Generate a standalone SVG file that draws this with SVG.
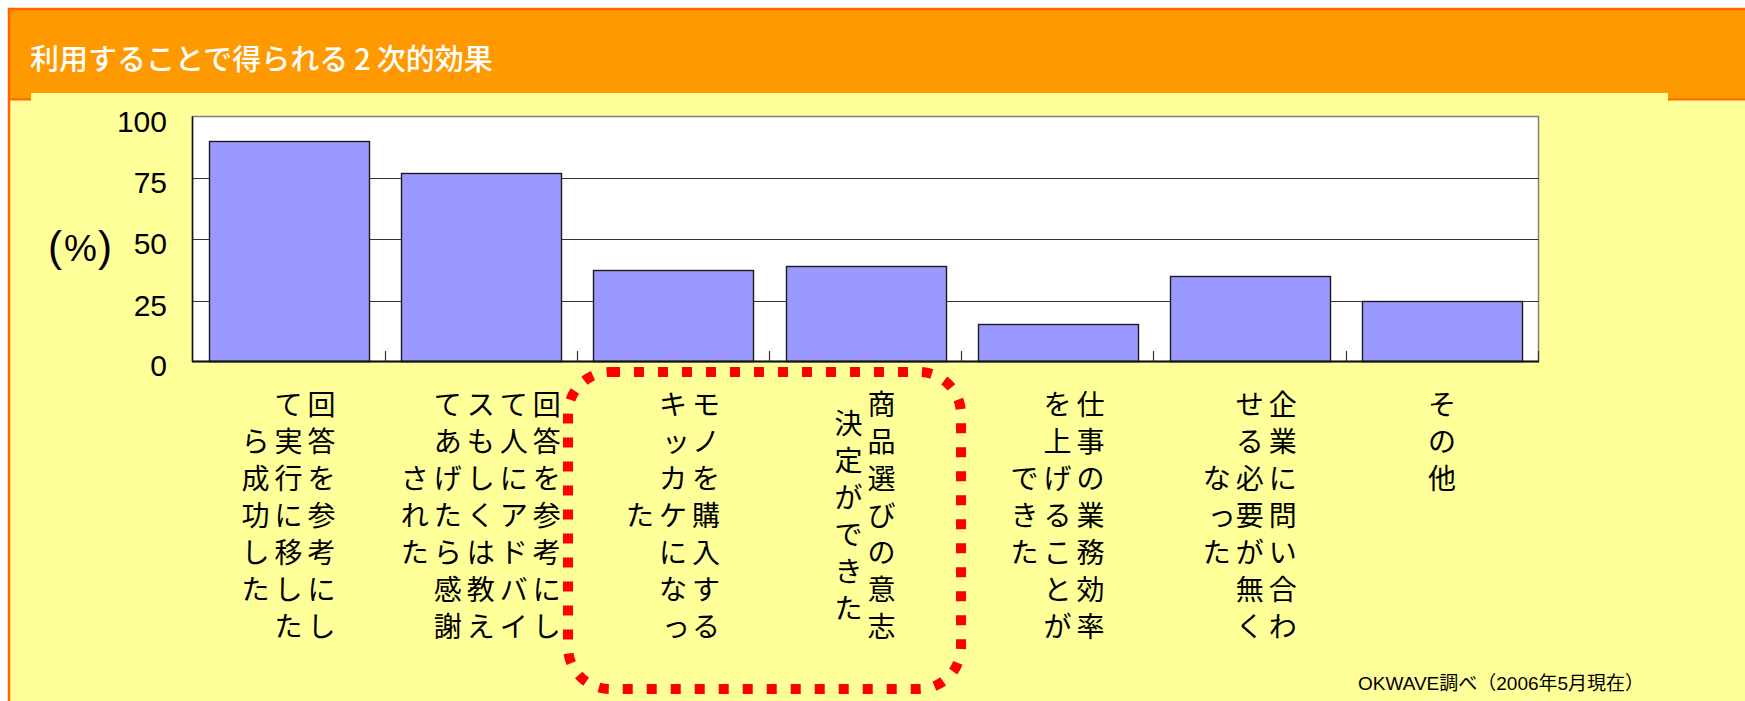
<svg xmlns="http://www.w3.org/2000/svg" width="1745" height="701" viewBox="0 0 1745 701">
  <style>
    .num { font-family: "Liberation Sans", Arial, sans-serif; font-size: 30px; fill: #000; text-anchor: end; }
    .lbl { font-family: "Noto Sans CJK JP", "Noto Sans CJK SC", sans-serif; font-size: 28px; fill: #000; text-anchor: middle; }
    .bar { fill: #9999FF; stroke: #1a1a1a; stroke-width: 1.4; }
    .grid { stroke: #333; stroke-width: 1; fill: none; }
    .tick { stroke: #333; stroke-width: 1.2; }
  </style>
  <rect x="0" y="0" width="1745" height="701" fill="#FFFFFF"/>
  <!-- panel -->
  <g id="panel">
    <rect x="8" y="93" width="1737" height="608" fill="#FFFF99"/>
    <path d="M8,8 H1745 V100 H1668 V93 H31 V100 H8 Z" fill="#FF9900"/>
    <line x1="8" y1="9" x2="1745" y2="9" stroke="#FF6600" stroke-width="2.5"/>
    <line x1="9" y1="8" x2="9" y2="701" stroke="#FF6600" stroke-width="2.5"/>
    <line x1="8" y1="99.5" x2="31" y2="99.5" stroke="#FF6600" stroke-width="2"/>
    <line x1="1668" y1="99.5" x2="1745" y2="99.5" stroke="#FF6600" stroke-width="2"/>
    <text id="title" x="30" y="69.5" font-family="'Noto Sans CJK JP', 'Noto Sans CJK SC', sans-serif" font-size="29" font-weight="500" fill="#FFFFFF">利用することで得られる<tspan dx="6">2</tspan><tspan dx="6">次的効果</tspan></text>
  </g>
  <!-- plot area -->
  <g id="plot">
    <rect x="192.5" y="116.5" width="1346" height="245" fill="#FFFFFF" stroke="#808080" stroke-width="1.5"/>
    <line class="grid" x1="192.5" y1="178.5" x2="1538.5" y2="178.5"/>
    <line class="grid" x1="192.5" y1="239.5" x2="1538.5" y2="239.5"/>
    <line class="grid" x1="192.5" y1="301.5" x2="1538.5" y2="301.5"/>
  </g>
  <g id="bars">
    <rect class="bar" x="209.5" y="141.5" width="160" height="220"/>
    <rect class="bar" x="401.5" y="173.5" width="160" height="188"/>
    <rect class="bar" x="593.5" y="270.5" width="160" height="91"/>
    <rect class="bar" x="786.5" y="266.5" width="160" height="95"/>
    <rect class="bar" x="978.5" y="324.5" width="160" height="37"/>
    <rect class="bar" x="1170.5" y="276.5" width="160" height="85"/>
    <rect class="bar" x="1362.5" y="301.5" width="160" height="60"/>
  </g>
  <g id="axes">
    <line x1="192.5" y1="116.5" x2="192.5" y2="362" stroke="#111" stroke-width="1.5"/>
    <line x1="192" y1="361.5" x2="1539" y2="361.5" stroke="#111" stroke-width="1.8"/>
    <line class="tick" x1="385.5" y1="351" x2="385.5" y2="361.5"/>
    <line class="tick" x1="577.5" y1="351" x2="577.5" y2="361.5"/>
    <line class="tick" x1="769.5" y1="351" x2="769.5" y2="361.5"/>
    <line class="tick" x1="961.5" y1="351" x2="961.5" y2="361.5"/>
    <line class="tick" x1="1153.5" y1="351" x2="1153.5" y2="361.5"/>
    <line class="tick" x1="1346.5" y1="351" x2="1346.5" y2="361.5"/>
    <line class="tick" x1="1538.5" y1="351" x2="1538.5" y2="361.5"/>
  </g>
  <g id="yaxis-labels">
    <text class="num" x="167" y="131.5">100</text>
    <text class="num" x="167" y="193">75</text>
    <text class="num" x="167" y="254">50</text>
    <text class="num" x="167" y="316">25</text>
    <text class="num" x="167" y="375.5">0</text>
    <text x="48" y="261" font-family="'Liberation Sans', Arial, sans-serif" font-size="42" fill="#000">(<tspan font-size="37" dx="2">%</tspan><tspan dx="1">)</tspan></text>
  </g>
  <!-- category labels (vertical writing, columns right to left) -->
  <g id="cat1">
    <text class="lbl"><tspan x="321.6 321.6 321.6 321.6 321.6 321.6 321.6" y="415 452 489 526 563 600 637">回答を参考にし</tspan><tspan x="288.6 288.6 288.6 288.6 288.6 288.6 288.6" y="415 452 489 526 563 600 637">て実行に移した</tspan><tspan x="255.6 255.6 255.6 255.6 255.6" y="452 489 526 563 600">ら成功した</tspan></text>
  </g>
  <g id="cat2">
    <text class="lbl"><tspan x="546.8 546.8 546.8 546.8 546.8 546.8 546.8" y="415 452 489 526 563 600 637">回答を参考にし</tspan><tspan x="513.8 513.8 513.8 513.8 513.8 513.8 513.8" y="415 452 489 526 563 600 637">て人にアドバイ</tspan><tspan x="480.8 480.8 480.8 480.8 480.8 480.8 480.8" y="415 452 489 526 563 600 637">スもしくは教え</tspan><tspan x="447.8 447.8 447.8 447.8 447.8 447.8 447.8" y="415 452 489 526 563 600 637">てあげたら感謝</tspan><tspan x="414.8 414.8 414.8" y="489 526 563">された</tspan></text>
  </g>
  <g id="cat3">
    <text class="lbl"><tspan x="706 706 706 706 706 706 706" y="415 452 489 526 563 600 637">モノを購入する</tspan><tspan x="673 676 673 673 673 673 676" y="415 452 489 526 563 600 637">キッカケになっ</tspan><tspan x="640" y="526">た</tspan></text>
  </g>
  <g id="cat4">
    <text class="lbl"><tspan x="881.5 881.5 881.5 881.5 881.5 881.5 881.5" y="415 452 489 526 563 600 637">商品選びの意志</tspan><tspan x="848.5 848.5 848.5 848.5 848.5 848.5" y="433.5 470.5 507.5 544.5 581.5 618.5">決定ができた</tspan></text>
  </g>
  <g id="cat5">
    <text class="lbl"><tspan x="1090.4 1090.4 1090.4 1090.4 1090.4 1090.4 1090.4" y="415 452 489 526 563 600 637">仕事の業務効率</tspan><tspan x="1057.4 1057.4 1057.4 1057.4 1057.4 1057.4 1057.4" y="415 452 489 526 563 600 637">を上げることが</tspan><tspan x="1024.4 1024.4 1024.4" y="489 526 563">できた</tspan></text>
  </g>
  <g id="cat6">
    <text class="lbl"><tspan x="1282.7 1282.7 1282.7 1282.7 1282.7 1282.7 1282.7" y="415 452 489 526 563 600 637">企業に問い合わ</tspan><tspan x="1249.7 1249.7 1249.7 1249.7 1249.7 1249.7 1249.7" y="415 452 489 526 563 600 637">せる必要が無く</tspan><tspan x="1216.7 1221.7 1216.7" y="489 526 563">なった</tspan></text>
  </g>
  <g id="cat7">
    <text class="lbl"><tspan x="1441.9 1441.9 1441.9" y="415 452 489">その他</tspan></text>
  </g>
  <!-- highlight -->
  <g id="highlight">
    <rect x="568" y="372" width="393" height="317" rx="42" ry="42" fill="none" stroke="#FF0000" stroke-width="10" stroke-dasharray="10 14"/>
  </g>
  <text id="source" x="1358" y="690" font-family="'Liberation Sans', Arial, 'Noto Sans CJK JP', sans-serif" font-size="19" fill="#000">OKWAVE調べ（2006年5月現在）</text>
</svg>
